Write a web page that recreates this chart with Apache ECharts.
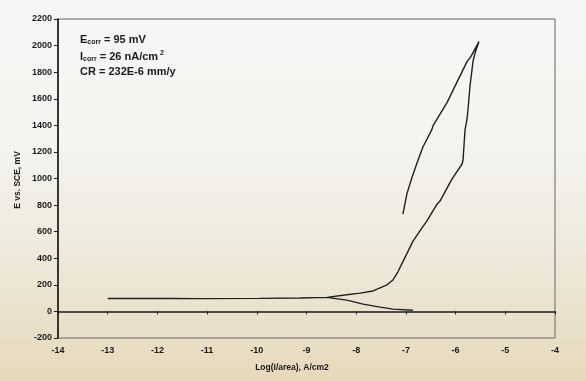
<!DOCTYPE html>
<html>
<head>
<meta charset="utf-8">
<script src="https://cdn.jsdelivr.net/npm/echarts@6/dist/echarts.min.js"></script>
<style>
html,body{margin:0;padding:0;}
body{width:586px;height:381px;overflow:hidden;
background:linear-gradient(to bottom,#f6f6f4 0%,#f4f4f1 35%,#efebdf 62%,#eae0ca 85%,#e6d8bb 100%);}
#chart{width:586px;height:381px;}
</style>
</head>
<body>
<div id="chart"></div>
<script>
// [log(I/area), E (mV)] pairs
var cathodic = [[-6.86,9],[-7.26,17],[-7.52,32],[-7.86,55],[-8.19,85],[-8.59,106]];
var ecorrSpike = [[-8.59,106],[-9.13,101],[-9.94,98],[-11.14,96],[-11.75,97],[-13.0,97]];
var anodic = [[-8.59,106],[-8.23,123],[-7.92,138],[-7.66,154],[-7.38,200],[-7.26,237],[-7.16,298],
  [-7.06,375],[-6.98,435],[-6.86,527],[-6.68,626],[-6.58,679],[-6.37,809],[-6.31,832],[-6.11,971],
  [-6.05,1009],[-5.87,1109],[-5.85,1139],[-5.81,1368],[-5.77,1444],[-5.75,1521],[-5.71,1696],
  [-5.65,1880],[-5.61,1942],[-5.53,2030]];
var reverse = [[-5.53,2030],[-5.69,1919],[-5.77,1879],[-5.97,1727],[-6.17,1573],[-6.45,1400],
  [-6.48,1366],[-6.66,1235],[-6.78,1113],[-6.88,1006],[-6.98,884],[-7.06,732]];
var xTicks = {min:-14, max:-4, interval:1};
var yTicks = {min:-200, max:2200, interval:200};
var xName = 'Log(I/area), A/cm2';
var yName = 'E vs. SCE, mV';

var path = cathodic.concat(ecorrSpike.slice(1), ecorrSpike.slice().reverse().slice(1), anodic.slice(1), reverse.slice(1));

var chart = echarts.init(document.getElementById('chart'), null, {renderer:'canvas'});
var labelStyle = {color:'#1a1a1a', fontFamily:'Liberation Sans, Arial, sans-serif', fontWeight:'bold', fontSize:9,
  formatter:function(v){return String(v);}};
chart.setOption({
  backgroundColor:'transparent',
  animation:false,
  grid:{left:58, right:31, top:19, bottom:43, show:true, borderColor:'#666', borderWidth:1, backgroundColor:'transparent'},
  xAxis:{type:'value', min:xTicks.min, max:xTicks.max, interval:xTicks.interval,
    axisLine:{lineStyle:{color:'#1a1a1a', width:1.6}},
    axisTick:{show:true, length:3, lineStyle:{color:'#1a1a1a'}},
    splitLine:{show:false},
    axisLabel:Object.assign({margin:8}, labelStyle)},
  yAxis:{type:'value', min:yTicks.min, max:yTicks.max, interval:yTicks.interval,
    axisLine:{show:true, lineStyle:{color:'#1a1a1a', width:1.6}},
    axisTick:{show:true, length:4, lineStyle:{color:'#1a1a1a'}},
    splitLine:{show:false},
    axisLabel:Object.assign({margin:6}, labelStyle)},
  graphic:[
    {type:'text', left:80, top:34, style:{text:'{m|E}{s|corr}{m| = 95 mV}', rich:{
      m:{fontSize:11, fontFamily:'Liberation Sans, Arial', fill:'#1a1a1a', fontWeight:'bold'},
      s:{fontSize:7, fontFamily:'Liberation Sans, Arial', fill:'#1a1a1a', fontWeight:'bold', padding:[6,0,0,0]}}}},
    {type:'text', left:80, top:50, style:{text:'{m|I}{s|corr}{m| = 26 nA/cm}{p| 2}', rich:{
      m:{fontSize:11, fontFamily:'Liberation Sans, Arial', fill:'#1a1a1a', fontWeight:'bold'},
      s:{fontSize:7, fontFamily:'Liberation Sans, Arial', fill:'#1a1a1a', fontWeight:'bold', padding:[6,0,0,0]},
      p:{fontSize:7, fontFamily:'Liberation Sans, Arial', fill:'#1a1a1a', fontWeight:'bold', padding:[0,0,6,0]}}}},
    {type:'text', left:80, top:66, style:{text:'CR = 232E-6 mm/y', fontSize:11, fontFamily:'Liberation Sans, Arial', fill:'#1a1a1a', fontWeight:'bold'}},
    {type:'text', x:292, y:368, style:{text:xName, fontSize:8.5, fontFamily:'Liberation Sans, Arial', fontWeight:'bold', fill:'#1a1a1a', align:'center', verticalAlign:'middle'}},
    {type:'text', x:18, y:180, rotation:Math.PI/2, style:{text:yName, fontSize:8.5, fontFamily:'Liberation Sans, Arial', fontWeight:'bold', fill:'#1a1a1a', align:'center', verticalAlign:'middle'}}
  ],
  series:[{type:'line', data:path, showSymbol:false, symbol:'none', smooth:false,
    lineStyle:{color:'#202020', width:1.4}}]
});
</script>
</body>
</html>
